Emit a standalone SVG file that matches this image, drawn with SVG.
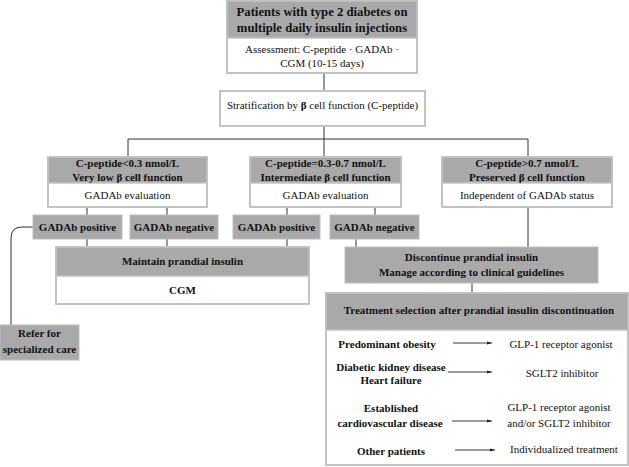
<svg xmlns="http://www.w3.org/2000/svg" width="629" height="467" viewBox="0 0 629 467">
<defs>
<marker id="ah" markerWidth="6" markerHeight="6" refX="5" refY="3" orient="auto" markerUnits="userSpaceOnUse">
<path d="M0,1.5 L5,3 L0,4.5 Z" fill="#222"/>
</marker>
<style>
.box{fill:#ffffff;stroke:#c3c3c3;stroke-width:2}
.hd{fill:#a9a9a9;stroke:#c3c3c3;stroke-width:1.5}
.gr{fill:#a9a9a9;stroke:#bdbdbd;stroke-width:1}
text{font-family:"Liberation Serif","Times New Roman",serif;fill:#111;text-anchor:middle}
.b{font-weight:bold;font-size:11px}
.r{font-size:11px}
.t{font-weight:bold;font-size:12.7px}
.conn{stroke:#333;stroke-width:1;fill:none}
.arr{stroke:#222;stroke-width:0.9;fill:none;marker-end:url(#ah)}
</style>
</defs>
<rect width="629" height="467" fill="#ffffff"/>

<g id="connectors">
<path class="conn" d="M324,73V91 M324,126V157 M128,139H528 M128,139V157 M528,139V157"/>
<path class="conn" d="M87,207V215 M167,207V215 M287,207V215 M375,207V215"/>
<path class="conn" d="M87,239V247 M167,239V247 M287,239V247 M356,239V247"/>
<path class="conn" d="M528,207V247 M472,283V293"/>
<path class="conn" d="M33,227H22Q11,227 11,238V325"/>
</g>

<g id="n-top">
<rect class="box" x="227" y="1" width="190" height="72"/>
<rect class="hd" x="227" y="1" width="190" height="37"/>
<text class="t" x="322" y="15.5">Patients with type 2 diabetes on</text>
<text class="t" x="322" y="32">multiple daily insulin injections</text>
<text class="r" x="322" y="53">Assessment: C-peptide · GADAb ·</text>
<text class="r" x="322" y="67">CGM (10-15 days)</text>
</g>

<g id="n-strat">
<rect class="box" x="220" y="91" width="205" height="35"/>
<text class="r" x="322.5" y="109">Stratification by <tspan font-weight="bold">β</tspan> cell function (C-peptide)</text>
</g>

<g id="n-low">
<rect class="box" x="48" y="157" width="159" height="50"/>
<rect class="hd" x="48" y="157" width="159" height="26"/>
<text class="b" x="127.5" y="167">C-peptide&lt;0.3 nmol/L</text>
<text class="b" x="127.5" y="181">Very low β cell function</text>
<text class="r" x="127.5" y="199">GADAb evaluation</text>
</g>

<g id="n-mid">
<rect class="box" x="250" y="157" width="151" height="50"/>
<rect class="hd" x="250" y="157" width="151" height="26"/>
<text class="b" x="325.5" y="167">C-peptide=0.3-0.7 nmol/L</text>
<text class="b" x="325.5" y="181">Intermediate β cell function</text>
<text class="r" x="325.5" y="199">GADAb evaluation</text>
</g>

<g id="n-high">
<rect class="box" x="442" y="157" width="170" height="50"/>
<rect class="hd" x="442" y="157" width="170" height="26"/>
<text class="b" x="527" y="167">C-peptide&gt;0.7 nmol/L</text>
<text class="b" x="527" y="181">Preserved β cell function</text>
<text class="r" x="527" y="199">Independent of GADAb status</text>
</g>

<g id="n-pos1">
<rect class="gr" x="33" y="215" width="89" height="24"/>
<text class="b" x="77.5" y="231">GADAb positive</text>
</g>
<g id="n-neg1">
<rect class="gr" x="130" y="215" width="88" height="24"/>
<text class="b" x="174" y="231">GADAb negative</text>
</g>
<g id="n-pos2">
<rect class="gr" x="233" y="215" width="87" height="24"/>
<text class="b" x="276.5" y="231">GADAb positive</text>
</g>
<g id="n-neg2">
<rect class="gr" x="330" y="215" width="89" height="24"/>
<text class="b" x="374.5" y="231">GADAb negative</text>
</g>

<g id="n-maintain">
<rect class="box" x="56" y="247" width="253" height="57"/>
<rect class="hd" x="56" y="247" width="253" height="29"/>
<text class="b" x="182.5" y="265">Maintain prandial insulin</text>
<text class="b" x="182.5" y="294">CGM</text>
</g>

<g id="n-refer">
<rect class="gr" x="0" y="325" width="79" height="35"/>
<text class="b" x="39.5" y="337">Refer for</text>
<text class="b" x="39.5" y="353">specialized care</text>
</g>

<g id="n-discontinue">
<rect class="gr" x="345" y="247" width="253" height="36"/>
<text class="b" x="471.5" y="261">Discontinue prandial insulin</text>
<text class="b" x="471.5" y="276">Manage according to clinical guidelines</text>
</g>

<g id="n-treatment">
<rect class="box" x="326" y="293" width="302" height="172"/>
<rect class="hd" x="326" y="293" width="302" height="37"/>
<text class="b" x="479" y="314">Treatment selection after prandial insulin discontinuation</text>
<text class="b" x="387" y="348">Predominant obesity</text>
<text class="b" x="391" y="371">Diabetic kidney disease</text>
<text class="b" x="391" y="384">Heart failure</text>
<text class="b" x="391" y="412">Established</text>
<text class="b" x="390" y="427">cardiovascular disease</text>
<text class="b" x="391" y="455">Other patients</text>
<path class="arr" d="M453,343H492"/>
<path class="arr" d="M448,372H492"/>
<path class="arr" d="M452,421H492"/>
<path class="arr" d="M455,450H495"/>
<text class="r" x="561" y="348">GLP-1 receptor agonist</text>
<text class="r" x="562" y="377">SGLT2 inhibitor</text>
<text class="r" x="559" y="411">GLP-1 receptor agonist</text>
<text class="r" x="559" y="427">and/or SGLT2 inhibitor</text>
<text class="r" x="564" y="453">Individualized treatment</text>
</g>
</svg>
